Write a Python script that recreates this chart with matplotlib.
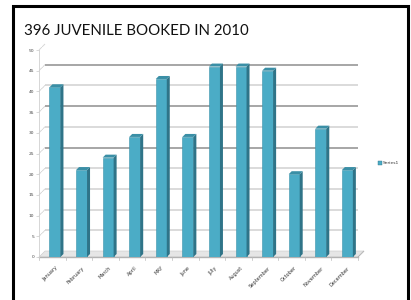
import matplotlib
matplotlib.use("Agg")
import matplotlib.pyplot as plt
import matplotlib.patches as patches
import matplotlib.transforms as transforms

months = ["January", "February", "March", "April", "MAY", "June", "JUly",
          "August", "September", "October", "November", "December"]
booked = [41, 21, 24, 29, 43, 29, 46, 46, 45, 20, 31, 21]
yticks = [0, 5, 10, 15, 20, 25, 30, 35, 40, 45, 50]
title = "396 JUVENILE BOOKED IN 2010"
series_name = "Series1"

W, H = 411, 300
fig = plt.figure(figsize=(W / 100, H / 100), dpi=100)

# plot area in pixels (front plane)
left_px, right_px, bottom_px, top_px = 39, 358, 257, 50
ax = fig.add_axes([left_px / W, 1 - bottom_px / H,
                   (right_px - left_px) / W, (bottom_px - top_px) / H])
n = len(months)
ax.set_xlim(-0.6, n - 0.6)
ax.set_ylim(0, 50)
ax.patch.set_alpha(0)
for s in ["top", "right", "bottom"]:
    ax.spines[s].set_visible(False)
ax.spines["left"].set_color("#d0d0d0")
ax.spines["left"].set_linewidth(0.6)

ppx = (right_px - left_px) / n
ppy = (bottom_px - top_px) / 50

# back wall shift (3D depth)
wall_dx, wall_dy = 6, 6
wall = transforms.offset_copy(ax.transData, fig=fig, x=wall_dx * 0.72, y=wall_dy * 0.72, units="points")

for v in yticks[1:]:
    dark = v in (45, 35, 25)
    ax.plot([-0.6, n - 0.6], [v, v], color="#a6a6a6" if dark else "#dadada",
            lw=1.4, transform=wall, zorder=1, solid_capstyle="butt")
    ax.plot([-0.6, -0.6 + wall_dx / ppx], [v, v + wall_dy / ppy], color="#b0b0b0", lw=0.5,
            ls=(0, (1, 0.6)), zorder=1, clip_on=False)

# floor
fx, fy = wall_dx / ppx, wall_dy / ppy
floor = patches.Polygon([[-0.6, 0], [n - 0.6, 0], [n - 0.6 + fx, fy], [-0.6 + fx, fy]],
                        closed=True, facecolor="#e6e6e6", edgecolor="#c8c8c8", lw=0.4,
                        zorder=1.5, clip_on=False)
ax.add_patch(floor)
ax.plot([-0.6, n - 0.6], [0, 0], color="#b3b3b3", lw=1.0, clip_on=False, zorder=1.6)
ax.plot([n - 0.6, n - 0.6 + fx], [0, fy], color="#999999", lw=0.6,
        ls=(0, (1, 0.6)), clip_on=False, zorder=1.6)
for b in range(n + 1):
    ax.plot([b - 0.6, b - 0.6], [0, -0.8], color="#bbbbbb", lw=0.5, clip_on=False, zorder=1.6)

# bars
bw = 11 / ppx
dx, dy = 3 / ppx, 3 / ppy
xs = list(range(n))
ax.bar(xs, booked, width=bw, color="#4bacc6", edgecolor="#3d93ab", lw=0.4, zorder=3)
for x, v in zip(xs, booked):
    r = x + bw / 2
    l = x - bw / 2
    ax.add_patch(patches.Polygon([[r, 0], [r + dx, dy], [r + dx, v + dy], [r, v]],
                                 closed=True, facecolor="#2f7488", edgecolor="none", zorder=3))
    ax.add_patch(patches.Polygon([[l, v], [r, v], [r + dx, v + dy], [l + dx, v + dy]],
                                 closed=True, facecolor="#3a8fa6", edgecolor="none", zorder=3))

ax.set_yticks(yticks)
ax.set_yticklabels([str(t) for t in yticks], fontsize=3.2, color="#444444")
ax.tick_params(axis="y", length=2, width=0.4, color="#bbbbbb", pad=1.5)
ax.set_xticks(xs)
ax.set_xticklabels(months, fontsize=3.6, color="#333333", rotation=45, ha="right",
                   rotation_mode="anchor")
ax.tick_params(axis="x", length=0, pad=6)

# legend
fig.patches.append(patches.Rectangle((378 / W, 1 - 165 / H), 3.5 / W, 4 / H,
                                     transform=fig.transFigure, facecolor="#4bacc6",
                                     edgecolor="#2f7488", lw=0.3))
fig.text(383 / W, 1 - 163 / H, series_name, fontsize=3.2, color="#333333", va="center")

# title
fig.text(24 / W, 1 - 31 / H, title, fontsize=10.8, family="Lato", color="#111111", va="center")

# slide border
fig.patches.append(patches.Rectangle((13 / W, -0.1), 395 / W, 1.1 - 6 / H,
                                     transform=fig.transFigure, fill=False,
                                     edgecolor="black", lw=2.2))

fig.savefig("out.png", dpi=100)
